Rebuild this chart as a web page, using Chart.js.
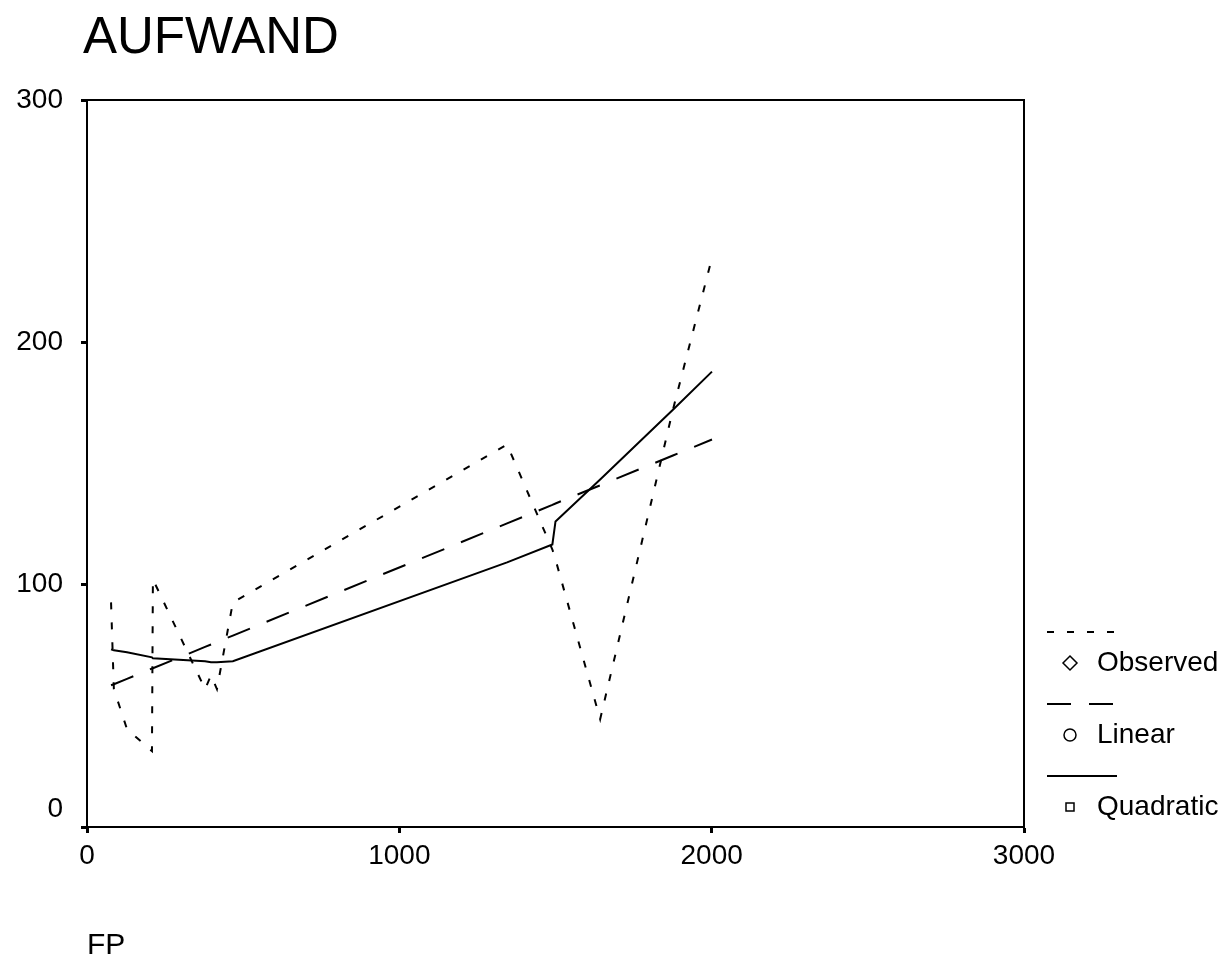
<!DOCTYPE html>
<html>
<head>
<meta charset="utf-8">
<title>AUFWAND</title>
<script src="https://cdn.jsdelivr.net/npm/chart.js@4.4.1/dist/chart.umd.min.js"></script>
<style>
  body { margin: 0; background: #fff; }
  #chart { display: block; }
</style>
</head>
<body>
<canvas id="chart" width="1230" height="964"></canvas>
<script>
const chartTitle = 'AUFWAND';
const xTitle = 'FP';

// cases in file order (FP)
const fpValues = [77, 86, 128, 208, 211, 378, 397, 416, 467, 1345, 1490, 1500, 1643, 1876, 2001];
const observed = [92.7, 56.9, 40.4, 31.3, 102.2, 56.9, 62.6, 56.9, 92.7, 157.8, 114.5, 110.4, 44.5, 172.2, 234.9];
const linearFit = [58.5, 58.9, 61.1, 65.4, 65.5, 74.3, 75.3, 76.3, 79.0, 125.3, 132.9, 133.5, 141.0, 153.3, 159.9];
const quadraticFit = [73.3, 72.9, 72.1, 70.0, 69.6, 68.4, 68.0, 68.0, 68.4, 109.2, 116.6, 126.1, 143.4, 172.2, 187.9];

const xTicks = [0, 1000, 2000, 3000];
const yTicks = [0, 100, 200, 300];

const seriesNames = ['Observed', 'Linear', 'Quadratic'];
const seriesMarkers = ['diamond', 'circle', 'square'];

const font = '"Liberation Sans", Arial, sans-serif';

function toPoints(ys) {
    return fpValues.map((x, i) => ({ x: x, y: ys[i] }));
}

function drawMarker(ctx, kind, x, y) {
    ctx.beginPath();
    if (kind === 'diamond') {
        ctx.moveTo(x, y - 7);
        ctx.lineTo(x + 7, y);
        ctx.lineTo(x, y + 7);
        ctx.lineTo(x - 7, y);
        ctx.closePath();
    } else if (kind === 'circle') {
        ctx.arc(x, y, 6, 0, Math.PI * 2);
    } else {
        ctx.rect(x - 4, y - 4, 8, 8);
    }
    ctx.stroke();
}

// frame, title, y labels and the SPSS style legend
const spssDecor = {
    id: 'spssDecor',
    afterDraw(chart) {
        const ctx = chart.ctx;
        const area = chart.chartArea;
        const yScale = chart.scales.y;
        ctx.save();
        ctx.strokeStyle = '#000';
        ctx.fillStyle = '#000';
        ctx.lineWidth = 2;
        ctx.strokeRect(area.left, area.top, area.width, area.height);

        ctx.font = '51px ' + font;
        ctx.textAlign = 'left';
        ctx.textBaseline = 'alphabetic';
        ctx.fillText(chartTitle, 83, 53);

        ctx.font = '28px ' + font;
        ctx.textAlign = 'right';
        ctx.textBaseline = 'middle';
        yTicks.forEach(v => {
            let y = yScale.getPixelForValue(v);
            if (v === 0) y -= 18;
            ctx.fillText(String(v), area.left - 24, y);
        });

        ctx.textAlign = 'left';
        chart.data.datasets.forEach((ds, i) => {
            const yText = area.bottom - 164 + i * 72;
            const yLine = yText - 31;
            ctx.lineWidth = 2;
            ctx.setLineDash(ds.borderDash || []);
            ctx.beginPath();
            ctx.moveTo(area.right + 23, yLine);
            ctx.lineTo(area.right + 93, yLine);
            ctx.stroke();
            ctx.setLineDash([]);
            ctx.lineWidth = 1.5;
            drawMarker(ctx, seriesMarkers[i], area.right + 46, yText);
            ctx.fillText(ds.label, area.right + 73, yText);
        });
        ctx.restore();
    }
};

const data = {
    datasets: [
        {
            label: seriesNames[0],
            data: toPoints(observed),
            borderColor: '#000',
            borderWidth: 2,
            borderDash: [7, 13]
        },
        {
            label: seriesNames[1],
            data: toPoints(linearFit),
            borderColor: '#000',
            borderWidth: 2,
            borderDash: [24, 18]
        },
        {
            label: seriesNames[2],
            data: toPoints(quadraticFit),
            borderColor: '#000',
            borderWidth: 2
        }
    ]
};

const config = {
    type: 'scatter',
    data: data,
    options: {
        responsive: false,
        animation: false,
        showLine: true,
        elements: {
            point: { radius: 0, hoverRadius: 0 },
            line: { tension: 0, fill: false }
        },
        layout: {
            padding: { top: 100, right: 206, left: 0, bottom: 0 }
        },
        scales: {
            x: {
                type: 'linear',
                min: 0,
                max: 3000,
                afterBuildTicks: scale => { scale.ticks = xTicks.map(v => ({ value: v })); },
                afterFit: scale => { scale.height = 137; },
                ticks: {
                    color: '#000',
                    padding: 6,
                    maxRotation: 0,
                    font: { family: font, size: 28 },
                    callback: value => String(value)
                },
                grid: {
                    drawOnChartArea: false,
                    tickLength: 6,
                    tickWidth: 3,
                    tickColor: '#000'
                },
                border: { color: '#000', width: 2 },
                title: {
                    display: true,
                    text: xTitle,
                    align: 'start',
                    color: '#000',
                    padding: 0,
                    font: { family: font, size: 30 }
                }
            },
            y: {
                type: 'linear',
                min: 0,
                max: 300,
                afterBuildTicks: scale => { scale.ticks = yTicks.map(v => ({ value: v })); },
                afterFit: scale => { scale.width = 87; },
                ticks: {
                    display: false
                },
                grid: {
                    drawOnChartArea: false,
                    tickLength: 6,
                    tickWidth: 3,
                    tickColor: '#000'
                },
                border: { color: '#000', width: 2 }
            }
        },
        plugins: {
            legend: { display: false },
            tooltip: { enabled: false }
        }
    },
    plugins: [spssDecor]
};

new Chart(document.getElementById('chart'), config);
</script>
</body>
</html>
